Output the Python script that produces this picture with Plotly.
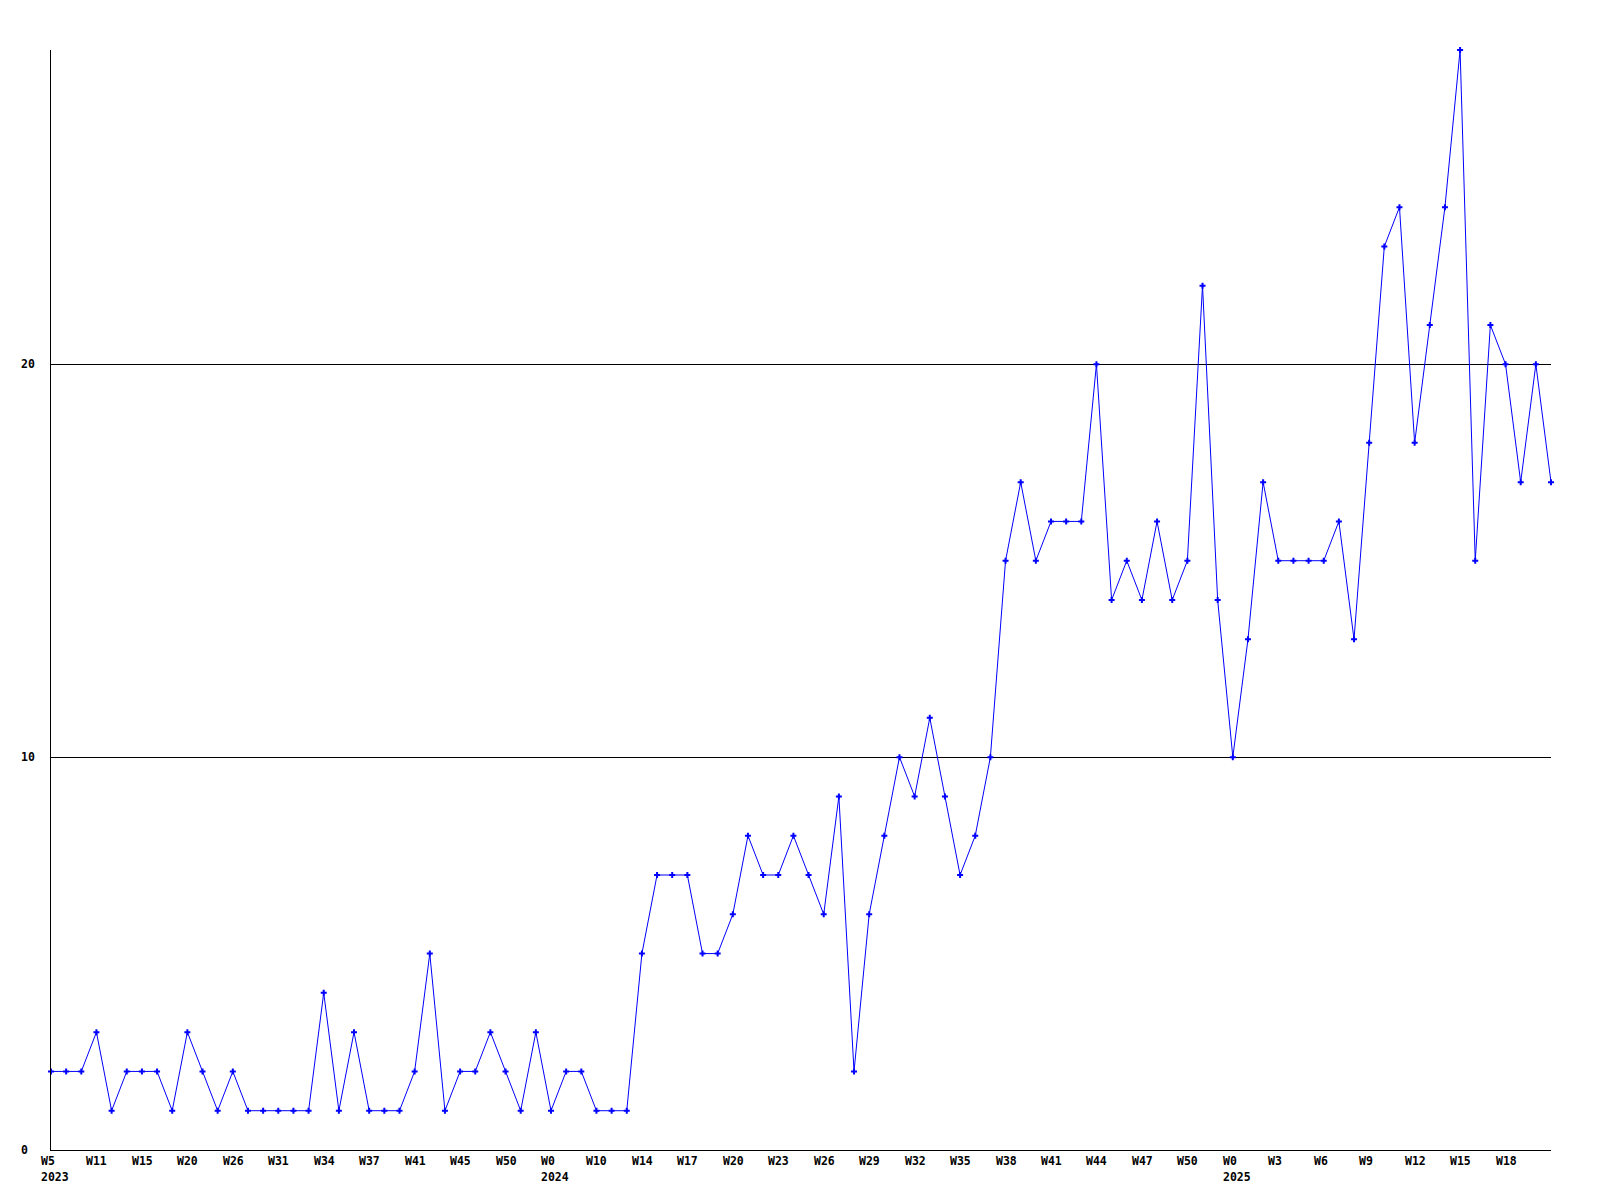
import plotly.graph_objects as go

values = [2, 2, 2, 3, 1, 2, 2, 2, 1, 3,
          2, 1, 2, 1, 1, 1, 1, 1, 4, 1,
          3, 1, 1, 1, 2, 5, 1, 2, 2, 3,
          2, 1, 3, 1, 2, 2, 1, 1, 1, 5,
          7, 7, 7, 5, 5, 6, 8, 7, 7, 8,
          7, 6, 9, 2, 6, 8, 10, 9, 11, 9,
          7, 8, 10, 15, 17, 15, 16, 16, 16, 20,
          14, 15, 14, 16, 14, 15, 22, 14, 10, 13,
          17, 15, 15, 15, 15, 16, 13, 18, 23, 24,
          18, 21, 24, 28, 15, 21, 20, 17, 20, 17]

week_labels = ["W5", "W11", "W15", "W20", "W26", "W31", "W34", "W37", "W41", "W45", "W50",
               "W0", "W10", "W14", "W17", "W20", "W23", "W26", "W29", "W32", "W35", "W38",
               "W41", "W44", "W47", "W50", "W0", "W3", "W6", "W9", "W12", "W15", "W18"]
label_step = 3
year_labels = {0: "2023", 33: "2024", 78: "2025"}
y_ticks = [0, 10, 20]

x = list(range(len(values)))

fig = go.Figure()
fig.add_trace(go.Scatter(
    x=x, y=values, mode="lines+markers",
    line=dict(color="#0000FF", width=1),
    marker=dict(symbol="cross", size=5, color="#0000FF", line=dict(width=0)),
    cliponaxis=False, showlegend=False, hoverinfo="x+y"))

font = dict(family="DejaVu Sans Mono", size=11.5, color="black", weight="bold")
ann = []
for i, lab in enumerate(week_labels):
    ann.append(dict(x=i * label_step, xref="x", y=0, yref="paper", text=lab,
                    showarrow=False, xanchor="left", yanchor="middle",
                    xshift=-12, yshift=-11, font=font))
for idx, yr in year_labels.items():
    ann.append(dict(x=idx, xref="x", y=0, yref="paper", text=yr,
                    showarrow=False, xanchor="left", yanchor="middle",
                    xshift=-12, yshift=-27, font=font))
for v in y_ticks:
    ann.append(dict(x=0, xref="paper", y=v, yref="y", text=str(v),
                    showarrow=False, xanchor="left", yanchor="middle",
                    xshift=-32, font=font))

fig.update_layout(
    width=1600, height=1200,
    margin=dict(l=43, r=57, t=42, b=58),
    paper_bgcolor="white", plot_bgcolor="white",
    xaxis=dict(range=[0, len(values) - 1], showgrid=False, zeroline=False,
               showline=True, linecolor="black", linewidth=1,
               showticklabels=False, ticks=""),
    yaxis=dict(range=[0, 28], tickvals=y_ticks, showgrid=True,
               gridcolor="black", gridwidth=1, zeroline=False,
               showline=True, linecolor="black", linewidth=1,
               showticklabels=False, ticks=""),
    annotations=ann,
)

fig.write_html("out.html")
